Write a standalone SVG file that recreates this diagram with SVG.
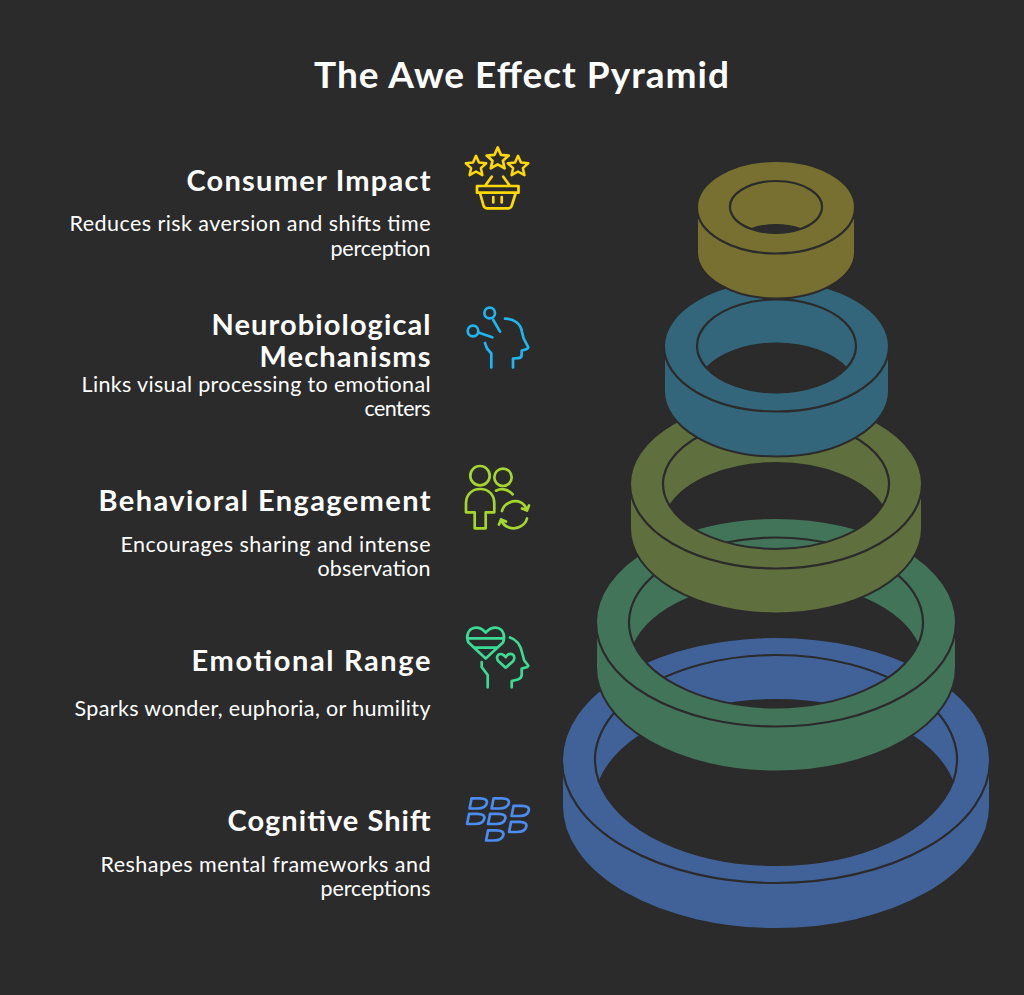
<svg xmlns="http://www.w3.org/2000/svg" width="1024" height="995" viewBox="0 0 1024 995">
<style>
text{font-family:"Lato","Noto Sans",sans-serif;fill:#fff;text-anchor:end}
.t{font-size:37px;font-weight:700;text-anchor:middle}
.h{font-size:29px;font-weight:700}
.b{font-size:21.5px}
.r{stroke:#2b2b2b;stroke-width:2;fill-rule:evenodd;stroke-linejoin:round}
.l{stroke:#2b2b2b;stroke-width:2.2;fill:none}
.i{fill:none;stroke-width:2.7;stroke-linecap:round;stroke-linejoin:round}
</style>
<defs>
<path id="d" d="M2.600 0.800H11C16 0.800 18.600 2.600 17.800 5.600C17 8.800 13.600 11 8.500 11H0.600Z"/>
<path id="s" d="M0-11.500L3.200-4.200L11-3.400L5.200 1.700L6.900 9.300L0 5.400L-6.900 9.300L-5.200 1.700L-11-3.400L-3.200-4.200Z"/>
</defs>
<rect width="1024" height="995" fill="#2b2b2b"/>
<text class="t" x="521.500" y="88" textLength="415">The Awe Effect Pyramid</text>

<g id="pyramid">
<g id="ring-cognitive">
<path class="r" fill="#416299" d="M562 760A214 123 0 0 1 990 760V806A214 123 0 0 1 562 806ZM599.200 782.500A181 105 0 0 1 952.800 782.500A181 105 0 0 1 599.200 782.500Z"/>
<path class="l" d="M562 760A214 123 0 0 0 990 760M599.200 782.500A181 105 0 1 1 952.800 782.500"/>
</g>
<g id="ring-emotional">
<path class="r" fill="#427459" d="M596 622.500A180 104.500 0 0 1 956 622.500V667A180 104.500 0 0 1 596 667ZM634 644.500A147 85 0 0 1 918 644.500A147 85 0 0 1 634 644.500Z"/>
<path class="l" d="M596 622.500A180 104 0 0 0 956 622.500M634 644.500A147 85 0 1 1 918 644.500"/>
</g>
<g id="ring-behavioral">
<path class="r" fill="#5f6f3e" d="M630 484A146 85 0 0 1 922 484V528.500A146 85 0 0 1 630 528.500ZM669.700 506A113 65 0 0 1 882.300 506A113 65 0 0 1 669.700 506Z"/>
<path class="l" d="M630 484A146 84.500 0 0 0 922 484M669.700 506A113 65 0 1 1 882.300 506"/>
</g>
<g id="ring-neuro">
<path class="r" fill="#33667a" d="M664 346.500A112.500 65.500 0 0 1 889 346.500V391A112.500 65.500 0 0 1 664 391ZM706.500 368A79.500 46.500 0 0 1 846.500 368A79.500 46.500 0 0 1 706.500 368Z"/>
<path class="l" d="M664 346.500A112.500 65 0 0 0 889 346.500M706.500 368A79.500 46.500 0 1 1 846.500 368"/>
</g>
<g id="ring-consumer">
<path class="r" fill="#787031" d="M697 207.500A79 46.500 0 0 1 855 207.500V252A79 46.500 0 0 1 697 252ZM751.500 229A46 26 0 0 1 800.500 229A46 26 0 0 1 751.500 229Z"/>
<path class="l" d="M697 207.500A79 46 0 0 0 855 207.500M751.500 229A46 26 0 1 1 800.500 229"/>
</g>
</g>

<g id="node-consumer">
<text class="h" x="430.500" y="191" textLength="244">Consumer Impact</text>
<text class="b" x="430.500" y="231" textLength="361">Reduces risk aversion and shifts time</text>
<text class="b" x="430.500" y="255.500" textLength="100">perception</text>
<g class="i" stroke="#ffd900">
<use href="#s" x="497.700" y="159"/>
<use href="#s" transform="translate(476 166.500) scale(.93)"/>
<use href="#s" transform="translate(518 166.500) scale(.93)"/>
<path d="M491.700 176.700L485.700 185M503.300 176.700L509.300 185M477 186H518.500V192.700H477ZM480 193L483.500 205.500Q484.300 208.300 487 208.300H508.500Q511 208.300 511.800 205.500L515.700 193M493.300 197V202.500M501.700 197V202.500"/>
</g>
</g>

<g id="node-neuro">
<text class="h" x="430.500" y="335" textLength="219">Neurobiological</text>
<text class="h" x="430.500" y="367" textLength="171">Mechanisms</text>
<text class="b" x="430.500" y="392" textLength="349">Links visual processing to emotional</text>
<text class="b" x="430.500" y="416" textLength="66">centers</text>
<g class="i" stroke="#1fb6f0">
<circle cx="489.700" cy="313" r="5.300"/>
<circle cx="473" cy="331" r="5.300"/>
<path d="M493.300 320L500 331.700M479 332.700L492.300 337.300M505 318.700C514 318.500 521 324 522 332L523.500 338L528.300 347.300Q528.500 349 521.700 350.500V354.500Q521.700 358 518 358.200L513 358.500V367.500M485 343L487 348.500L491.300 353.500V367.500"/>
</g>
</g>

<g id="node-behavioral">
<text class="h" x="430.500" y="511" textLength="332">Behavioral Engagement</text>
<text class="b" x="430.500" y="552" textLength="310">Encourages sharing and intense</text>
<text class="b" x="430.500" y="576" textLength="113">observation</text>
<g class="i" stroke="#a4d62e">
<circle cx="480" cy="475.700" r="9.700"/>
<circle cx="503" cy="477.300" r="8.700"/>
<path d="M466 512.300V503.300C466 494.500 472 489 480.200 489C488.500 489 494.300 494.500 494.300 503.300V512.300H485.700V528.300H474.700V512.300ZM496 490.700C502 487.700 508.500 489.500 512.700 494.300M502 511C504 503 514 499 521 502.500Q525 504.500 527 510.500M529 505.500L527 510.500L522 508.500M527 518.500C525 526 516 530 509 527.500Q503 525.500 501 519.500M499 524.500L501 519.500L506 521.500"/>
</g>
</g>

<g id="node-emotional">
<text class="h" x="430.500" y="671" textLength="239">Emotional Range</text>
<text class="b" x="430.500" y="716" textLength="356">Sparks wonder, euphoria, or humility</text>
<g class="i" stroke="#3bdb95">
<path d="M485.700 632.500C482 628.500 477 627 473.500 628C468 629.500 465.500 637 468.500 642.500L485.700 658.500L503 642.500C505.500 637 503.500 629.500 498 628C494.500 627 489.500 628.500 485.700 632.500ZM467.700 638.300H503.800M475 647.700H496.500"/>
<path d="M505.700 657.200C503.500 654.200 500.500 653.200 498.500 654.700C496 656.700 497 659.700 499 661.700L505.700 667.700L512.500 661.700C514.500 659.700 515 656.700 513 654.700C510.500 653.200 507.700 654.200 505.700 657.200Z"/>
<path d="M510 637.500C517 639.500 521 646 522.500 654L524 660L528.300 665.700Q528.500 667.500 521.700 668.500V674.700Q521.700 678 517.700 679.500L511.700 681V687.300M481.700 662V667L487.700 675V687.300"/>
</g>
</g>

<g id="node-cognitive">
<text class="h" x="430.500" y="831" textLength="203">Cognitive Shift</text>
<text class="b" x="430.500" y="872" textLength="330">Reshapes mental frameworks and</text>
<text class="b" x="430.500" y="896" textLength="110">perceptions</text>
<g class="i" stroke="#4c8bf0">
<use href="#d" x="469" y="797.500"/>
<use href="#d" x="491" y="797.500"/>
<use href="#d" x="511" y="805"/>
<use href="#d" x="466.500" y="813"/>
<use href="#d" x="487.500" y="813"/>
<use href="#d" x="508.500" y="821"/>
<use href="#d" x="485.500" y="829.500"/>
</g>
</g>
</svg>
